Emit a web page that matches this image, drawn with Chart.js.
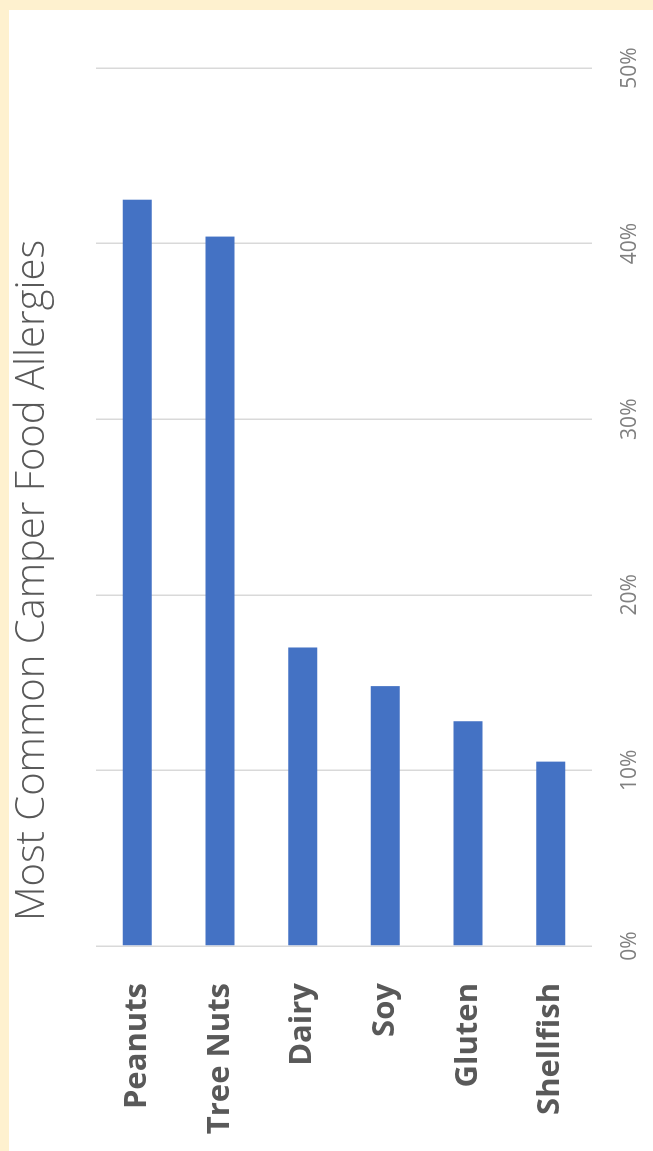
<!DOCTYPE html>
<html>
<head>
<meta charset="utf-8">
<script src="https://cdn.jsdelivr.net/npm/chart.js@4"></script>
<style>
  html, body { margin: 0; padding: 0; }
  body { width: 653px; height: 1151px; background: #fef1cf; position: relative; overflow: hidden; }
  #sheet { position: absolute; left: 9px; top: 10px; width: 644px; height: 1141px; background: #ffffff; }
  #turn {
    position: absolute; left: 9px; top: 1151px;
    width: 1141px; height: 644px;
    transform-origin: 0 0; transform: rotate(-90deg);
  }
</style>
</head>
<body>
<div id="sheet"></div>
<div id="turn"><canvas id="allergyChart" width="1141" height="644"></canvas></div>
<script>
const categories = ['Peanuts', 'Tree Nuts', 'Dairy', 'Soy', 'Gluten', 'Shellfish'];
const shares = [42.5, 40.4, 17.0, 14.8, 12.8, 10.5];
const tickValues = [0, 10, 20, 30, 40, 50];

document.addEventListener('DOMContentLoaded', () => {
    const ctx = document.getElementById('allergyChart').getContext('2d');
    new Chart(ctx, {
        type: 'bar',
        data: {
            labels: categories,
            datasets: [{
                data: shares,
                backgroundColor: '#4472c4',
                borderWidth: 0,
                barPercentage: 0.35,
                categoryPercentage: 1
            }]
        },
        options: {
            indexAxis: 'y',
            responsive: false,
            animation: false,
            layout: { padding: 0 },
            scales: {
                x: {
                    min: 0,
                    max: 50,
                    afterBuildTicks: (axis) => {
                        axis.ticks = tickValues.map(v => ({ value: v }));
                    },
                    afterFit: (axis) => {
                        axis.height = 61;
                        // keep room on the far end so the title stays centred on the whole chart
                        axis.paddingRight = 58;
                    },
                    grid: { color: '#d9d9d9', lineWidth: 1.5, drawTicks: false },
                    border: { display: false },
                    ticks: {
                        padding: 25,
                        color: '#808080',
                        font: { family: 'Open Sans', size: 21 },
                        callback: (v) => v + '%'
                    }
                },
                y: {
                    afterFit: (axis) => { axis.width = 205; },
                    grid: { display: false, drawTicks: false },
                    border: { display: false },
                    ticks: {
                        padding: 37,
                        color: '#595959',
                        font: { family: 'Open Sans', size: 31, weight: 'bold' }
                    }
                }
            },
            plugins: {
                legend: { display: false },
                tooltip: { enabled: false },
                title: {
                    display: true,
                    text: 'Most Common Camper Food Allergies',
                    color: '#595959',
                    font: { family: 'Open Sans', size: 40, weight: '300' },
                    padding: { top: 0, bottom: 39 }
                }
            }
        }
    });
});
</script>
</body>
</html>
